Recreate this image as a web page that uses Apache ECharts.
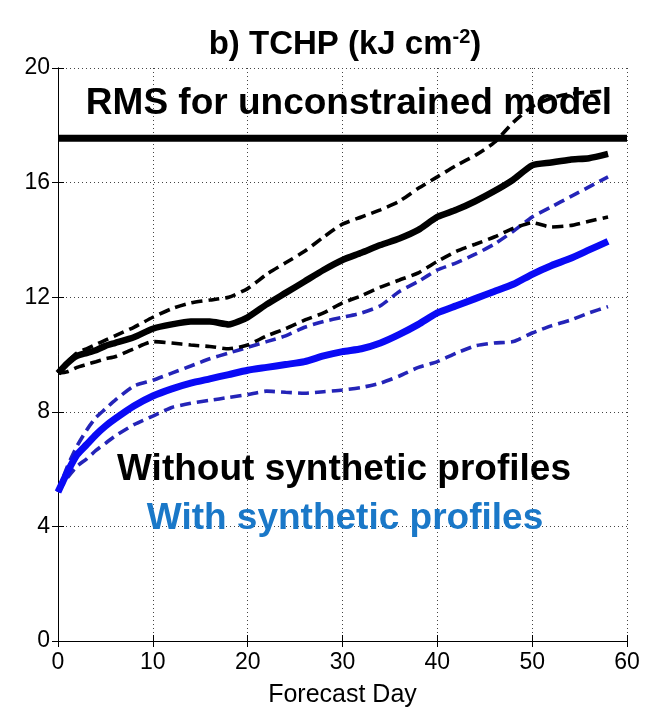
<!DOCTYPE html>
<html><head><meta charset="utf-8">
<script src="https://cdn.jsdelivr.net/npm/echarts@6/dist/echarts.min.js"></script>
<style>html,body{margin:0;padding:0;background:#fff}#c{width:650px;height:715px}</style>
</head><body><div id="c"></div>
<script>
// Forecast days (x values)
const days = [0,1,2,3,4,5,6,8,10,12,14,16,18,20,22,24,26,28,30,32,34,36,38,40,42,44,46,48,50,52,54,56,58];
// Without synthetic profiles (black)
const withoutMean  = [9.35,9.7,9.95,10.05,10.15,10.3,10.4,10.6,10.9,11.05,11.15,11.15,11.05,11.3,11.75,12.15,12.55,12.95,13.3,13.55,13.82,14.05,14.35,14.8,15.05,15.35,15.7,16.1,16.6,16.7,16.8,16.85,17.0];
const withoutUpper = [9.35,9.75,10.05,10.2,10.35,10.5,10.65,10.95,11.3,11.6,11.8,11.9,12.0,12.3,12.8,13.2,13.6,14.1,14.55,14.8,15.05,15.35,15.8,16.2,16.6,16.95,17.4,18.1,18.65,18.95,19.1,19.15,19.2];
const withoutLower = [9.35,9.4,9.55,9.65,9.75,9.85,9.92,10.2,10.45,10.4,10.33,10.28,10.2,10.33,10.65,10.9,11.2,11.45,11.8,12.05,12.35,12.6,12.85,13.25,13.6,13.85,14.1,14.4,14.6,14.45,14.5,14.65,14.8];
// With synthetic profiles (blue)
const withMean  = [5.2,5.9,6.5,6.85,7.2,7.5,7.75,8.2,8.55,8.8,9.0,9.15,9.3,9.45,9.55,9.65,9.75,9.95,10.1,10.2,10.4,10.7,11.05,11.45,11.7,11.95,12.2,12.45,12.8,13.1,13.35,13.65,13.95];
const withUpper = [5.2,6.1,6.8,7.35,7.8,8.1,8.4,8.9,9.1,9.35,9.6,9.85,10.05,10.25,10.45,10.65,10.95,11.15,11.3,11.45,11.7,12.2,12.55,12.95,13.2,13.5,13.85,14.3,14.8,15.15,15.5,15.85,16.2];
const withLower = [5.2,5.7,6.1,6.35,6.65,6.9,7.15,7.55,7.85,8.15,8.3,8.4,8.5,8.6,8.72,8.68,8.65,8.7,8.76,8.85,9.0,9.25,9.55,9.75,10.05,10.3,10.4,10.45,10.75,11.0,11.2,11.45,11.67];
// RMS for unconstrained model
const rmsDays  = [0, 60];
const rmsLevel = [17.55, 17.55];

const pairs = (xs, ys) => xs.map((x, i) => [x, ys[i]]);
const F = "'Liberation Sans', Arial, Helvetica, sans-serif";

const chart = echarts.init(document.getElementById('c'), null, {renderer: 'canvas'});
const dashed = (name, ys, color) => ({
  name, type: 'line', data: pairs(days, ys), showSymbol: false, symbol: 'none', smooth: 0.2,
  lineStyle: {color, width: 3.6, type: [11, 6]}, z: 2, silent: true
});
const solid = (name, ys, color, w) => ({
  name, type: 'line', data: pairs(days, ys), showSymbol: false, symbol: 'none', smooth: 0.2,
  lineStyle: {color, width: w}, z: 3, silent: true
});

chart.setOption({
  animation: false,
  backgroundColor: '#fff',
  title: {
    text: 'b) TCHP (kJ cm{sup|-2})',
    left: 340, textAlign: 'center', top: 22,
    textStyle: {fontFamily: F, fontWeight: 'bold', fontSize: 33, color: '#000',
      rich: {sup: {fontFamily: F, fontWeight: 'bold', fontSize: 20, color: '#000', verticalAlign: 'top', padding: [0,0,16,0]}}}
  },
  grid: {left: 58, right: 23, top: 68, bottom: 74, containLabel: false},
  xAxis: [{
    type: 'value', min: 0, max: 60, interval: 10,
    name: 'Forecast Day', nameLocation: 'middle', nameGap: 42,
    nameTextStyle: {fontFamily: F, fontSize: 25, color: '#000'},
    axisLine: {show: true, lineStyle: {color: '#000', width: 1}},
    axisTick: {show: true, inside: true, length: 6, lineStyle: {color: '#000'}},
    axisLabel: {fontFamily: F, fontSize: 23, color: '#000', margin: 10},
    splitLine: {show: true, lineStyle: {color: '#444', width: 1, type: [1, 3]}}
  }, {
    type: 'value', min: 0, max: 60, interval: 10, position: 'top',
    axisLine: {show: true, lineStyle: {color: '#000', width: 1}},
    axisTick: {show: true, inside: true, length: 6, lineStyle: {color: '#000'}},
    axisLabel: {show: false}, splitLine: {show: false}
  }],
  yAxis: [{
    type: 'value', min: 0, max: 20, interval: 4,
    axisLine: {show: true, lineStyle: {color: '#000', width: 1}},
    axisTick: {show: true, inside: true, length: 6, lineStyle: {color: '#000'}},
    axisLabel: {fontFamily: F, fontSize: 23, color: '#000', margin: 8},
    splitLine: {show: true, lineStyle: {color: '#444', width: 1, type: [1, 3]}}
  }, {
    type: 'value', min: 0, max: 20, interval: 4, position: 'right',
    axisLine: {show: true, lineStyle: {color: '#000', width: 1}},
    axisTick: {show: true, inside: true, length: 6, lineStyle: {color: '#000'}},
    axisLabel: {show: false}, splitLine: {show: false}
  }],
  series: [
    dashed('With upper', withUpper, '#2424b8'),
    dashed('With lower', withLower, '#2424b8'),
    dashed('Without upper', withoutUpper, '#000'),
    dashed('Without lower', withoutLower, '#000'),
    solid('With synthetic profiles', withMean, '#0a0af5', 7),
    solid('Without synthetic profiles', withoutMean, '#000', 6.5),
    {name: 'RMS for unconstrained model', type: 'line', data: pairs(rmsDays, rmsLevel),
     showSymbol: false, symbol: 'none', lineStyle: {color: '#000', width: 7}, z: 4, silent: true}
  ],
  graphic: [
    {type: 'text', style: {text: 'RMS for unconstrained model', x: 349, y: 104,
      fill: '#000', font: 'bold 37px ' + F, textAlign: 'center', textVerticalAlign: 'middle'}, z: 10},
    {type: 'text', style: {text: 'Without synthetic profiles', x: 344, y: 470,
      fill: '#000', font: 'bold 37px ' + F, textAlign: 'center', textVerticalAlign: 'middle'}, z: 10},
    {type: 'text', style: {text: 'With synthetic profiles', x: 345, y: 519,
      fill: '#1a78c8', font: 'bold 37px ' + F, textAlign: 'center', textVerticalAlign: 'middle'}, z: 10}
  ]
});
</script>
</body></html>
